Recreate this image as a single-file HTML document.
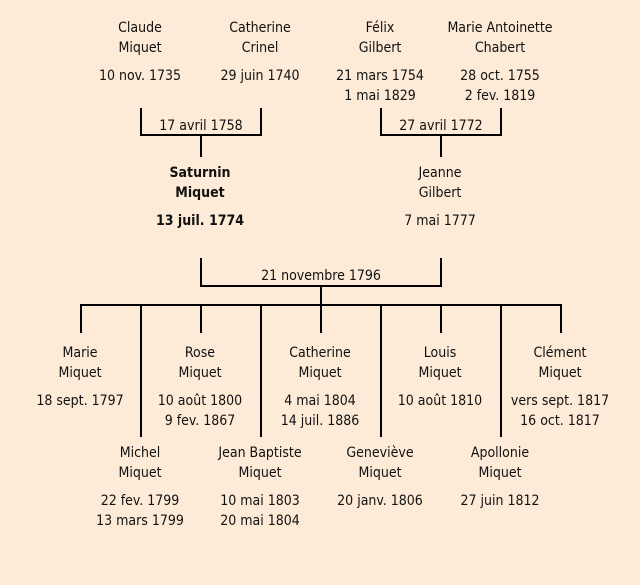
<!DOCTYPE html>
<html><head><meta charset="utf-8"><style>
body{margin:0;width:640px;height:585px;background:#fdebd7;position:relative;overflow:hidden;font-family:"DejaVu Sans Condensed","DejaVu Sans","Liberation Sans",sans-serif;font-size:14px;color:#111}
.t{position:absolute;width:160px;margin-left:-80px;text-align:center;line-height:20px;white-space:nowrap}
.b{font-weight:bold}
svg{position:absolute;left:0;top:0}
</style></head><body>
<svg width="640" height="585"><g stroke="#000" stroke-width="2" fill="none">
<path d="M141 108V135H261V108M201 135V157"/>
<path d="M381 108V135H501V108M441 135V157"/>
<path d="M201 258V286H441V258M321 286V305"/>
<path d="M80 305H562"/>
<path d="M81 305V333M201 305V333M321 305V333M441 305V333M561 305V333"/>
<path d="M141 305V437M261 305V437M381 305V437M501 305V437"/>
</g></svg>
<div class="t" style="left:140px;top:18px">Claude<br>Miquet</div>
<div class="t" style="left:140px;top:66px">10 nov. 1735</div>
<div class="t" style="left:260px;top:18px">Catherine<br>Crinel</div>
<div class="t" style="left:260px;top:66px">29 juin 1740</div>
<div class="t" style="left:380px;top:18px">Félix<br>Gilbert</div>
<div class="t" style="left:380px;top:66px">21 mars 1754<br>1 mai 1829</div>
<div class="t" style="left:500px;top:18px">Marie Antoinette<br>Chabert</div>
<div class="t" style="left:500px;top:66px">28 oct. 1755<br>2 fev. 1819</div>
<div class="t" style="left:201px;top:116px">17 avril 1758</div>
<div class="t" style="left:441px;top:116px">27 avril 1772</div>
<div class="t b" style="left:200px;top:163px">Saturnin<br>Miquet</div>
<div class="t b" style="left:200px;top:211px">13 juil. 1774</div>
<div class="t" style="left:440px;top:163px">Jeanne<br>Gilbert</div>
<div class="t" style="left:440px;top:211px">7 mai 1777</div>
<div class="t" style="left:321px;top:266px">21 novembre 1796</div>
<div class="t" style="left:80px;top:343px">Marie<br>Miquet</div>
<div class="t" style="left:80px;top:391px">18 sept. 1797</div>
<div class="t" style="left:200px;top:343px">Rose<br>Miquet</div>
<div class="t" style="left:200px;top:391px">10 août 1800<br>9 fev. 1867</div>
<div class="t" style="left:320px;top:343px">Catherine<br>Miquet</div>
<div class="t" style="left:320px;top:391px">4 mai 1804<br>14 juil. 1886</div>
<div class="t" style="left:440px;top:343px">Louis<br>Miquet</div>
<div class="t" style="left:440px;top:391px">10 août 1810</div>
<div class="t" style="left:560px;top:343px">Clément<br>Miquet</div>
<div class="t" style="left:560px;top:391px">vers sept. 1817<br>16 oct. 1817</div>
<div class="t" style="left:140px;top:443px">Michel<br>Miquet</div>
<div class="t" style="left:140px;top:491px">22 fev. 1799<br>13 mars 1799</div>
<div class="t" style="left:260px;top:443px">Jean Baptiste<br>Miquet</div>
<div class="t" style="left:260px;top:491px">10 mai 1803<br>20 mai 1804</div>
<div class="t" style="left:380px;top:443px">Geneviève<br>Miquet</div>
<div class="t" style="left:380px;top:491px">20 janv. 1806</div>
<div class="t" style="left:500px;top:443px">Apollonie<br>Miquet</div>
<div class="t" style="left:500px;top:491px">27 juin 1812</div>
</body></html>
